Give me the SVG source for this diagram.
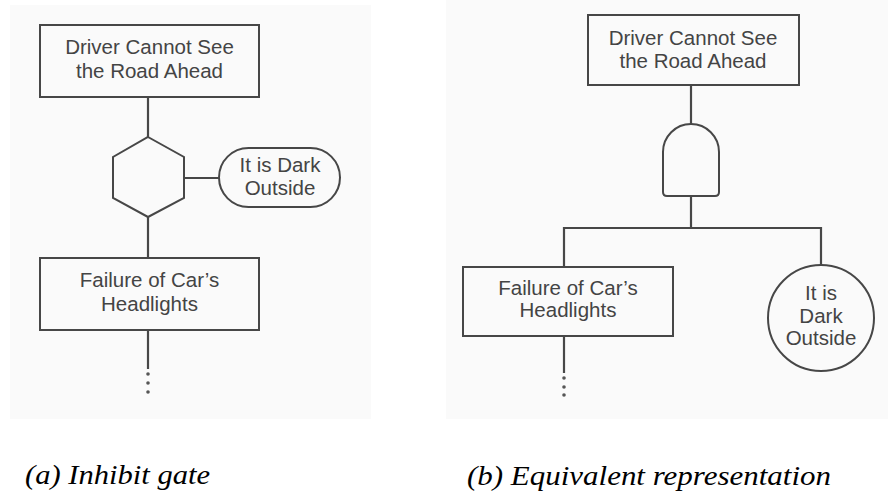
<svg xmlns="http://www.w3.org/2000/svg" width="888" height="495" viewBox="0 0 888 495">
<style>
.shape{fill:none;stroke:#474747;stroke-width:2}
.ln{fill:none;stroke:#474747;stroke-width:2.2}
.lbl{font-family:"Liberation Sans",Arial,sans-serif;font-size:20.5px;fill:#444;text-anchor:middle}
.cap{font-family:"Liberation Serif","Times New Roman",serif;font-style:italic;font-size:28px;fill:#000}
.dot{fill:#555}
</style>
<rect x="0" y="0" width="888" height="495" fill="#fff"/>
<rect x="10" y="5" width="361" height="414" fill="#fafafa"/>
<rect x="446" y="0" width="442" height="419" fill="#fafafa"/>
<g id="connectors">
<line class="ln" x1="148" y1="97" x2="148" y2="137"/>
<line class="ln" x1="148" y1="217" x2="148" y2="258"/>
<line class="ln" x1="184" y1="178" x2="219" y2="178"/>
<line class="ln" x1="148" y1="330" x2="148" y2="369"/>
<circle class="dot" cx="148" cy="374" r="1.8"/>
<circle class="dot" cx="148" cy="383" r="1.8"/>
<circle class="dot" cx="148" cy="392" r="1.8"/>
<line class="ln" x1="691" y1="85" x2="691" y2="124"/>
<line class="ln" x1="691" y1="196" x2="691" y2="228"/>
<polyline class="ln" points="564,267 564,228 821,228 821,265"/>
<line class="ln" x1="564" y1="336" x2="564" y2="373"/>
<circle class="dot" cx="564" cy="378" r="1.8"/>
<circle class="dot" cx="564" cy="387" r="1.8"/>
<circle class="dot" cx="564" cy="395" r="1.8"/>
</g>
<g id="a-top">
<rect class="shape" x="40" y="25" width="219" height="72"/>
<text class="lbl" x="149.5" y="54">Driver Cannot See</text>
<text class="lbl" x="149.5" y="78">the Road Ahead</text>
</g>
<g id="a-inhibit">
<polygon class="shape" points="148,137 184,157 184,198 148,217 113,198 113,157"/>
</g>
<g id="a-condition">
<rect class="shape" x="219" y="148" width="121" height="59" rx="29.5"/>
<text class="lbl" x="280" y="172">It is Dark</text>
<text class="lbl" x="280" y="195">Outside</text>
</g>
<g id="a-headlights">
<rect class="shape" x="40" y="258" width="219" height="72"/>
<text class="lbl" x="149.5" y="287">Failure of Car’s</text>
<text class="lbl" x="149.5" y="311">Headlights</text>
</g>
<g id="b-top">
<rect class="shape" x="588" y="15" width="211" height="70"/>
<text class="lbl" x="693" y="45">Driver Cannot See</text>
<text class="lbl" x="693" y="68">the Road Ahead</text>
</g>
<g id="b-and">
<path class="shape" d="M663,152 A28,28 0 0 1 719,152 L719,192 Q719,196 715,196 L667,196 Q663,196 663,192 Z"/>
</g>
<g id="b-headlights">
<rect class="shape" x="463" y="267" width="210" height="69"/>
<text class="lbl" x="568" y="295">Failure of Car’s</text>
<text class="lbl" x="568" y="317">Headlights</text>
</g>
<g id="b-dark">
<circle class="shape" cx="821" cy="318" r="53"/>
<text class="lbl" x="821" y="300">It is</text>
<text class="lbl" x="821" y="323">Dark</text>
<text class="lbl" x="821" y="345">Outside</text>
</g>
<g id="captions">
<text class="cap" x="25" y="484" textLength="185" lengthAdjust="spacingAndGlyphs">(a) Inhibit gate</text>
<text class="cap" x="467" y="485" textLength="364" lengthAdjust="spacingAndGlyphs">(b) Equivalent representation</text>
</g>
</svg>
